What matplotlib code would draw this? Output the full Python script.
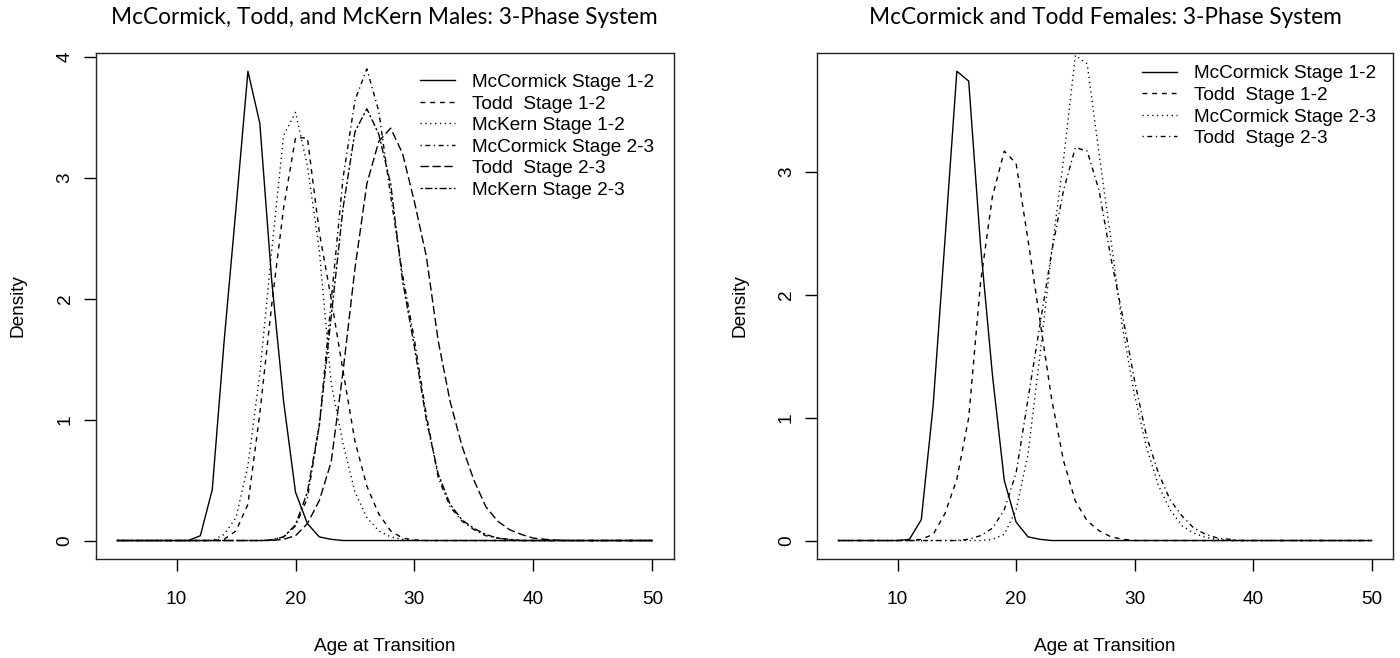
import matplotlib
matplotlib.use("Agg")
import matplotlib.pyplot as plt

plt.rcParams['font.family'] = ['Liberation Sans', 'DejaVu Sans']
plt.rcParams['lines.scale_dashes'] = False

# Age grid (years) at which the transition densities are evaluated
age = list(range(5, 51))

# ---- Males -----------------------------------------------------------------
m_mccormick_12 = [0, 0, 0, 0, 0, 0,
                  0.0, 0.04, 0.42, 1.65, 2.75, 3.88, 3.45, 2.15, 1.15, 0.40,
                  0.14, 0.03, 0.01, 0, 0, 0, 0, 0, 0, 0,
                  0, 0, 0, 0, 0, 0, 0, 0, 0, 0,
                  0, 0, 0, 0, 0, 0, 0, 0, 0, 0]
m_todd_12 = [0, 0, 0, 0, 0, 0,
             0, 0, 0, 0.01, 0.08, 0.30, 1.05, 1.95, 2.75, 3.33,
             3.33, 2.55, 2.0, 1.4, 0.82, 0.45, 0.22, 0.08, 0.02, 0.005,
             0, 0, 0, 0, 0, 0, 0, 0, 0, 0,
             0, 0, 0, 0, 0, 0, 0, 0, 0, 0]
m_mckern_12 = [0, 0, 0, 0, 0, 0,
               0, 0, 0.0, 0.05, 0.19, 0.62, 1.38, 2.4, 3.35, 3.54,
               3.1, 2.4, 1.3, 0.8, 0.4, 0.19, 0.08, 0.03, 0.01, 0,
               0, 0, 0, 0, 0, 0, 0, 0, 0, 0,
               0, 0, 0, 0, 0, 0, 0, 0, 0, 0]
m_mccormick_23 = [0, 0, 0, 0, 0, 0,
                  0, 0, 0, 0, 0, 0, 0.0, 0.005, 0.03, 0.12,
                  0.35, 0.95, 1.98, 3.0, 3.64, 3.90, 3.55, 2.85, 2.2, 1.66,
                  1.04, 0.52, 0.28, 0.16, 0.09, 0.04, 0.02, 0.005, 0, 0,
                  0, 0, 0, 0, 0, 0, 0, 0, 0, 0]
m_todd_23 = [0, 0, 0, 0, 0, 0,
             0, 0, 0, 0, 0, 0, 0, 0, 0.01, 0.04,
             0.14, 0.33, 0.65, 1.4, 2.25, 2.95, 3.3, 3.41, 3.2, 2.8,
             2.35, 1.65, 1.15, 0.78, 0.5, 0.28, 0.16, 0.09, 0.05, 0.02,
             0.01, 0.003, 0, 0, 0, 0, 0, 0, 0, 0]
m_mckern_23 = [0, 0, 0, 0, 0, 0,
               0, 0, 0, 0, 0, 0, 0, 0.005, 0.03, 0.13,
               0.4, 0.95, 1.85, 2.75, 3.38, 3.57, 3.36, 2.95, 2.15, 1.6,
               1.0, 0.55, 0.3, 0.17, 0.1, 0.05, 0.02, 0.01, 0, 0,
               0, 0, 0, 0, 0, 0, 0, 0, 0, 0]

# ---- Females ---------------------------------------------------------------
f_mccormick_12 = [0, 0, 0, 0, 0, 0,
                  0.01, 0.17, 1.1, 2.45, 3.82, 3.74, 2.4, 1.35, 0.49, 0.15,
                  0.03, 0.01, 0, 0, 0, 0, 0, 0, 0, 0,
                  0, 0, 0, 0, 0, 0, 0, 0, 0, 0,
                  0, 0, 0, 0, 0, 0, 0, 0, 0, 0]
f_todd_12 = [0, 0, 0, 0, 0, 0,
             0, 0.01, 0.05, 0.22, 0.5, 1.0, 2.1, 2.8, 3.17, 3.07,
             2.45, 1.8, 1.15, 0.65, 0.32, 0.16, 0.08, 0.03, 0.01, 0,
             0, 0, 0, 0, 0, 0, 0, 0, 0, 0,
             0, 0, 0, 0, 0, 0, 0, 0, 0, 0]
f_mccormick_23 = [0, 0, 0, 0, 0, 0,
                  0, 0, 0, 0, 0, 0, 0, 0.01, 0.05, 0.25,
                  0.7, 1.5, 2.35, 3.1, 3.95, 3.88, 3.15, 2.45, 1.72, 1.18,
                  0.76, 0.45, 0.25, 0.12, 0.06, 0.025, 0.01, 0, 0, 0,
                  0, 0, 0, 0, 0, 0, 0, 0, 0, 0]
f_todd_23 = [0, 0, 0, 0, 0, 0,
             0, 0, 0, 0, 0, 0.01, 0.04, 0.1, 0.25, 0.55,
             1.15, 1.75, 2.35, 2.85, 3.2, 3.17, 2.85, 2.3, 1.82, 1.3,
             0.85, 0.55, 0.33, 0.2, 0.1, 0.05, 0.02, 0.01, 0, 0,
             0, 0, 0, 0, 0, 0, 0, 0, 0, 0]

male_labels = ["McCormick Stage 1-2", "Todd  Stage 1-2", "McKern Stage 1-2",
               "McCormick Stage 2-3", "Todd  Stage 2-3", "McKern Stage 2-3"]
female_labels = ["McCormick Stage 1-2", "Todd  Stage 1-2",
                 "McCormick Stage 2-3", "Todd  Stage 2-3"]
x_ticks = [10, 20, 30, 40, 50]

male_title = "McCormick, Todd, and McKern Males: 3-Phase System"
female_title = "McCormick and Todd Females: 3-Phase System"

# R-style line types (lty 1..6), dash lengths in points
LTY = {
    1: '-',
    2: (0, (3.5, 3.5)),
    3: (0, (0.9, 2.6)),
    4: (0, (0.9, 2.6, 3.5, 2.6)),
    5: (0, (6.0, 2.6)),
    6: (0, (1.7, 1.7, 5.2, 1.7)),
}

FS = 13.7
W, H = 1400, 658


def draw_panel(ax, series, labels, ltys, yticks, legend_anchor):
    for y, lab, lt in zip(series, labels, ltys):
        ax.plot(age, y, color='black', lw=1.0, linestyle=LTY[lt], label=lab)
    ymax = max(series[0])
    ax.set_xlim(5 - 0.04 * 45, 50 + 0.04 * 45)
    ax.set_ylim(-0.04 * ymax, 1.04 * ymax)
    ax.set_xticks(x_ticks)
    ax.set_yticks(yticks)
    ax.tick_params(axis='both', direction='out', length=8.9, width=1.0,
                   labelsize=FS, color='black')
    ax.tick_params(axis='x', pad=14.0)
    ax.tick_params(axis='y', pad=7.0, labelrotation=90)
    for lab in ax.get_yticklabels():
        lab.set_verticalalignment('center')
    for sp in ax.spines.values():
        sp.set_linewidth(1.0)
        sp.set_color('#222222')
    ax.set_xlabel("Age at Transition", fontsize=FS)
    ax.set_ylabel("Density", fontsize=FS)
    ax.xaxis.set_label_coords(0.5, -0.156)
    ax.yaxis.set_label_coords(-0.119, 0.5)
    ax.legend(loc='upper left', bbox_to_anchor=legend_anchor, frameon=False,
              fontsize=FS, handlelength=1.84, handletextpad=0.88,
              labelspacing=0.22, borderpad=0, borderaxespad=0)


fig = plt.figure(figsize=(W / 100, H / 100), dpi=100)
ax1 = fig.add_axes([95.7 / W, 1 - 559.3 / H, 578 / W, 506.8 / H])
ax2 = fig.add_axes([817 / W, 1 - 559.3 / H, 576 / W, 506.8 / H])

draw_panel(ax1,
           [m_mccormick_12, m_todd_12, m_mckern_12,
            m_mccormick_23, m_todd_23, m_mckern_23],
           male_labels, [1, 2, 3, 4, 5, 6], [0, 1, 2, 3, 4], (0.561, 0.958))
draw_panel(ax2,
           [f_mccormick_12, f_todd_12, f_mccormick_23, f_todd_23],
           female_labels, [1, 2, 3, 4], [0, 1, 2, 3], (0.565, 0.975))

fig.text((95.7 + 578 / 2) / W, 1 - 17 / H, male_title, ha='center',
         va='center', fontsize=16.3, family=['Lato', 'DejaVu Sans'])
fig.text((817 + 576 / 2) / W, 1 - 17 / H, female_title, ha='center',
         va='center', fontsize=16.3, family=['Lato', 'DejaVu Sans'])

fig.savefig("out.png", dpi=100, facecolor='white')
